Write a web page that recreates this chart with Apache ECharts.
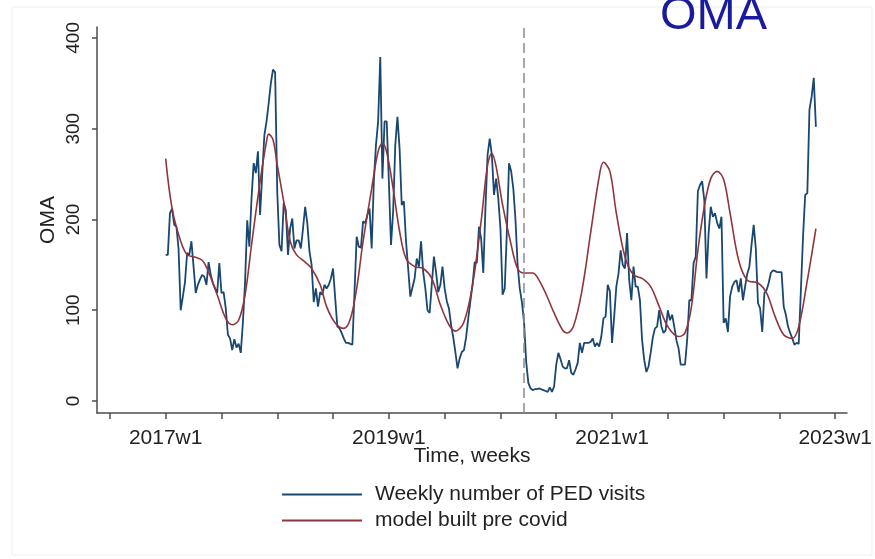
<!DOCTYPE html>
<html>
<head>
<meta charset="utf-8">
<script src="https://cdn.jsdelivr.net/npm/echarts@6/dist/echarts.min.js"></script>
<style>
  html, body { margin: 0; padding: 0; background: #fff; }
  #chart { width: 875px; height: 559px; }
</style>
</head>
<body>
<div id="chart"></div>
<script>
// week index 0 = 2017w1 (Stata weekly dates, 52 weeks per year)
const visits = [
  161, 161, 207, 212, 194, 192, 168, 100, 115, 131, 163, 161, 176,
  148, 119, 128, 134, 139, 137, 128, 153, 139, 130, 124, 119, 152,
  119, 120, 102, 73, 69, 56, 68, 59, 63, 53, 87, 131, 199,
  170, 223, 262, 251, 275, 205, 250, 293, 308, 328, 350, 365, 362,
  230, 172, 165, 218, 210, 161, 190, 201, 168, 177, 177, 168, 190,
  214, 196, 165, 150, 109, 124, 104, 120, 117, 128, 124, 128, 135,
  146, 113, 82, 80, 75, 69, 64, 64, 63, 62, 120, 181, 170,
  169, 198, 196, 205, 212, 168, 242, 282, 308, 379, 245, 308, 308,
  242, 172, 209, 282, 313, 278, 216, 220, 176, 146, 115, 125, 135,
  157, 148, 176, 142, 124, 100, 97, 128, 159, 142, 120, 128, 148,
  124, 110, 102, 84, 70, 54, 36, 47, 54, 56, 70, 91, 110,
  128, 153, 152, 192, 179, 141, 212, 271, 289, 271, 227, 245, 223,
  190, 117, 124, 187, 262, 253, 234, 200, 150, 124, 109, 87, 43,
  20, 14, 12, 13, 13, 14, 13, 12, 11, 10, 15, 10, 16,
  40, 53, 46, 38, 36, 36, 45, 31, 29, 35, 42, 64, 53,
  64, 64, 64, 65, 69, 60, 64, 60, 71, 91, 93, 128, 121,
  64, 93, 126, 140, 166, 150, 146, 185, 133, 111, 148, 126, 126,
  111, 67, 45, 32, 38, 53, 70, 80, 82, 100, 82, 75, 78,
  100, 89, 95, 82, 67, 58, 40, 40, 40, 67, 111, 111, 152,
  159, 231, 238, 242, 221, 135, 185, 214, 203, 207, 196, 190, 203,
  86, 91, 76, 115, 126, 131, 133, 120, 135, 111, 126, 140, 148,
  172, 194, 168, 108, 102, 76, 119, 122, 130, 141, 144, 143, 142,
  142, 142, 104, 95, 82, 75, 69, 62, 64, 63, 122, 181, 227,
  229, 321, 335, 356, 302
];

const modelWeeks = [
  0, 3, 7, 10, 13, 17, 20, 24, 28, 31, 34, 37, 40, 44, 47, 48, 50, 52,
  55, 58, 61, 65, 68, 72, 75, 79, 83, 86, 89, 92, 96, 99, 101, 103,
  106, 109, 112, 116, 120, 124, 128, 132, 135, 139, 143, 147, 150, 152,
  154, 157, 161, 164, 167, 171, 173, 177, 181, 185, 187, 190, 194, 198,
  202, 204, 207, 210, 214, 218, 222, 226, 230, 234, 239, 242, 245, 248,
  251, 254, 257, 260, 263, 267, 271, 276, 280, 284, 288, 292, 295, 299, 303
];
const modelValues = [
  267, 212, 176, 161, 159, 155, 142, 117, 91, 84, 89, 117, 172, 242, 286, 294, 288, 260,
  220, 176, 161, 153, 146, 128, 104, 86, 80, 90, 124, 176, 234, 275, 284, 274,
  234, 187, 157, 148, 146, 135, 106, 84, 77, 87, 128, 198, 260, 273,
  258, 216, 172, 146, 141, 141, 137, 119, 97, 78, 75, 82, 122, 185,
  247, 263, 253, 207, 159, 139, 135, 126, 104, 82, 71, 75, 104, 166,
  214, 245, 253, 244, 207, 155, 133, 130, 119, 93, 73, 69, 82, 133, 190
];

const covidWeek = 167; // 2020w12
const xTickWeeks = [-26, 0, 26, 52, 78, 104, 130, 156, 182, 208, 234, 260, 286, 312];
const xLabelWeeks = [0, 104, 208, 312];
const yTicks = [0, 100, 200, 300, 400];

const FONT = 'Liberation Sans';
const TEXT = '#222222';
const AXIS = '#4d4d4d';
const BLUE = '#1a476f';
const RED = '#90353b';
const LEGEND_LINE = 'path://M0 0H80V2H0Z';

const chart = echarts.init(document.getElementById('chart'), null, { renderer: 'canvas' });

chart.setOption({
  animation: false,
  backgroundColor: '#ffffff',
  textStyle: { fontFamily: FONT },
  graphic: [{
    type: 'rect',
    z: -10,
    shape: { x: 12, y: 7, width: 860, height: 548 },
    style: { fill: 'none', stroke: '#eeeeee', lineWidth: 1 }
  }],
  title: {
    text: 'OMA',
    left: 660,
    top: -7,
    padding: 0,
    textStyle: { fontFamily: FONT, fontSize: 47, fontWeight: 'normal', color: '#1a1a9c' }
  },
  legend: {
    orient: 'vertical',
    left: 282,
    top: 484,
    padding: 0,
    itemWidth: 80,
    itemHeight: 2,
    itemGap: 5,
    textStyle: { fontFamily: FONT, fontSize: 21, color: TEXT, padding: [0, 0, 0, 8] },
    data: [
      { name: 'Weekly number of PED visits', icon: LEGEND_LINE, itemStyle: { color: BLUE } },
      { name: 'model built pre covid', icon: LEGEND_LINE, itemStyle: { color: RED } }
    ]
  },
  grid: { left: 97, right: 25, top: 27, bottom: 146 },
  xAxis: {
    type: 'value',
    min: -32,
    max: 317.5,
    name: 'Time, weeks',
    nameLocation: 'middle',
    nameGap: 33,
    nameMoveOverlap: false,
    nameTextStyle: { fontFamily: FONT, fontSize: 21, color: TEXT },
    axisLine: { onZero: false, lineStyle: { color: AXIS, width: 1.5 } },
    axisTick: { customValues: xTickWeeks, length: 6, inside: false, lineStyle: { color: AXIS, width: 1.5 } },
    axisLabel: {
      customValues: xLabelWeeks,
      margin: 15,
      fontFamily: FONT,
      fontSize: 21,
      color: TEXT,
      formatter: v => (2017 + Math.round(v / 52)) + 'w1'
    },
    splitLine: { show: false }
  },
  yAxis: {
    type: 'value',
    min: -13.2,
    max: 412,
    name: 'OMA',
    nameLocation: 'middle',
    nameGap: 38,
    nameMoveOverlap: false,
    nameRotate: 90,
    nameTextStyle: { fontFamily: FONT, fontSize: 21, color: TEXT },
    axisLine: { show: true, onZero: false, lineStyle: { color: AXIS, width: 1.5 } },
    axisTick: { show: true, customValues: yTicks, length: 5, lineStyle: { color: AXIS, width: 1.5 } },
    axisLabel: {
      customValues: yTicks,
      rotate: 90,
      margin: 14,
      fontFamily: FONT,
      fontSize: 19,
      color: TEXT
    },
    splitLine: { show: false }
  },
  series: [
    {
      name: 'Weekly number of PED visits',
      type: 'line',
      data: visits.map((v, i) => [i, v]),
      symbol: 'none',
      lineStyle: { color: BLUE, width: 1.8 },
      itemStyle: { color: BLUE },
      z: 3,
      markLine: {
        silent: true,
        symbol: 'none',
        label: { show: false },
        lineStyle: { color: '#8c8c8c', width: 1.5, type: [10, 5] },
        data: [{ xAxis: covidWeek }]
      }
    },
    {
      name: 'model built pre covid',
      type: 'line',
      data: modelWeeks.map((w, i) => [w, modelValues[i]]),
      symbol: 'none',
      smooth: 0.35,
      lineStyle: { color: RED, width: 1.6 },
      itemStyle: { color: RED },
      z: 4
    }
  ]
});
</script>
</body>
</html>
